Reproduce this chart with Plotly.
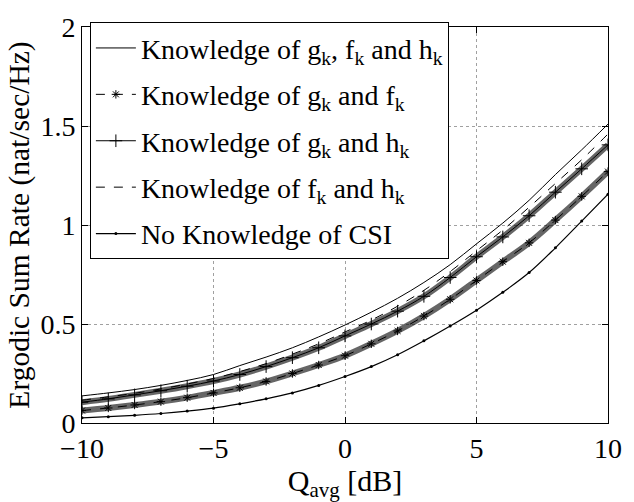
import plotly.graph_objects as go

# Average interference power constraint Q_avg in dB
q_avg_db = [-10, -9, -8, -7, -6, -5, -4, -3, -2, -1, 0,
            1, 2, 3, 4, 5, 6, 7, 8, 9, 10]

# Ergodic sum rate (nat/sec/Hz) for each level of channel knowledge
rate_full = [0.137, 0.152, 0.169, 0.190, 0.215, 0.245, 0.290, 0.333, 0.380, 0.435, 0.495,
             0.560, 0.630, 0.710, 0.800, 0.905, 1.010, 1.125, 1.255, 1.380, 1.510]
rate_g_f = [0.063, 0.076, 0.091, 0.108, 0.128, 0.152, 0.178, 0.210, 0.250, 0.293, 0.340,
            0.400, 0.465, 0.540, 0.625, 0.720, 0.815, 0.910, 1.025, 1.145, 1.270]
rate_g_h = [0.105, 0.122, 0.142, 0.163, 0.186, 0.212, 0.245, 0.285, 0.330, 0.380, 0.440,
            0.500, 0.565, 0.640, 0.735, 0.840, 0.940, 1.047, 1.166, 1.284, 1.405]
rate_f_h = [0.115, 0.132, 0.150, 0.172, 0.197, 0.225, 0.260, 0.300, 0.348, 0.400, 0.460,
            0.520, 0.590, 0.670, 0.765, 0.870, 0.975, 1.090, 1.210, 1.330, 1.460]
rate_none = [0.026, 0.032, 0.039, 0.048, 0.060, 0.075, 0.097, 0.122, 0.152, 0.190, 0.235,
             0.285, 0.345, 0.415, 0.490, 0.570, 0.660, 0.760, 0.885, 1.020, 1.156]

names = [
    "Knowledge of g<sub>k</sub>, f<sub>k</sub> and h<sub>k</sub>",
    "Knowledge of g<sub>k</sub> and f<sub>k</sub>",
    "Knowledge of g<sub>k</sub> and h<sub>k</sub>",
    "Knowledge of f<sub>k</sub> and h<sub>k</sub>",
    "No Knowledge of CSI",
]

x_ticks = [-10, -5, 0, 5, 10]
y_ticks = [0, 0.5, 1, 1.5, 2]
y_tick_text = ["0", "0.5", "1", "1.5", "2"]

SERIF = "Liberation Serif, Times New Roman, serif"
BLACK = "black"

fig = go.Figure()

# Dense marker bands behind the marked curves
for ys in (rate_g_f, rate_g_h):
    fig.add_trace(go.Scatter(
        x=q_avg_db, y=ys, mode="lines", showlegend=False, hoverinfo="skip",
        line=dict(color="rgba(0,0,0,0.6)", width=6, shape="spline"),
    ))

fig.add_trace(go.Scatter(
    x=q_avg_db, y=rate_full, name=names[0], legendgroup="a", mode="lines",
    line=dict(color=BLACK, width=1, shape="spline"),
))
fig.add_trace(go.Scatter(
    x=q_avg_db, y=rate_g_f, name=names[1], legendgroup="b", mode="lines+markers",
    line=dict(color=BLACK, width=1, dash="dash", shape="spline"),
    marker=dict(symbol="asterisk-open", size=7, color=BLACK, line=dict(color=BLACK, width=1)),
))
fig.add_trace(go.Scatter(
    x=q_avg_db, y=rate_g_h, name=names[2], legendgroup="c", mode="lines+markers",
    line=dict(color=BLACK, width=1, shape="spline"),
    marker=dict(symbol="cross-thin-open", size=9, color=BLACK, line=dict(color=BLACK, width=1)),
))
fig.add_trace(go.Scatter(
    x=q_avg_db, y=rate_f_h, name=names[3], legendgroup="d", mode="lines",
    line=dict(color=BLACK, width=1, dash="dash", shape="spline"),
))
fig.add_trace(go.Scatter(
    x=q_avg_db, y=rate_none, name=names[4], legendgroup="e", mode="lines+markers",
    line=dict(color=BLACK, width=1.2, shape="spline"),
    marker=dict(symbol="circle", size=3, color=BLACK),
))

axis_common = dict(
    showline=True, linecolor=BLACK, linewidth=1, mirror="ticks",
    ticks="inside", ticklen=6, tickcolor=BLACK, tickwidth=1,
    showgrid=True, gridcolor="#a0a0a0", griddash="dot", gridwidth=1,
    zeroline=False, tickfont=dict(family=SERIF, size=28, color=BLACK),
    ticklabeloverflow="allow",
)

fig.update_xaxes(
    range=[-10, 10], tickvals=x_ticks,
    title=dict(text="Q<sub>avg</sub> [dB]", font=dict(family=SERIF, size=30, color=BLACK), standoff=4),
    **axis_common,
)
fig.update_yaxes(
    range=[0, 2.0005], tickvals=y_ticks, ticktext=y_tick_text,
    title=dict(text="Ergodic Sum Rate (nat/sec/Hz)", font=dict(family=SERIF, size=29.5, color=BLACK), standoff=2),
    **axis_common,
)

fig.update_layout(
    width=634, height=502,
    margin=dict(l=82, r=13, t=13, b=79),
    paper_bgcolor="white", plot_bgcolor="white",
    font=dict(family=SERIF, color=BLACK),
    legend=dict(
        x=0.015, y=1.012, xanchor="left", yanchor="top",
        bgcolor="white", bordercolor=BLACK, borderwidth=1,
        font=dict(family=SERIF, size=28, color=BLACK),
        itemwidth=40, tracegroupgap=7,
    ),
    showlegend=True,
)

fig.write_html("out.html")
